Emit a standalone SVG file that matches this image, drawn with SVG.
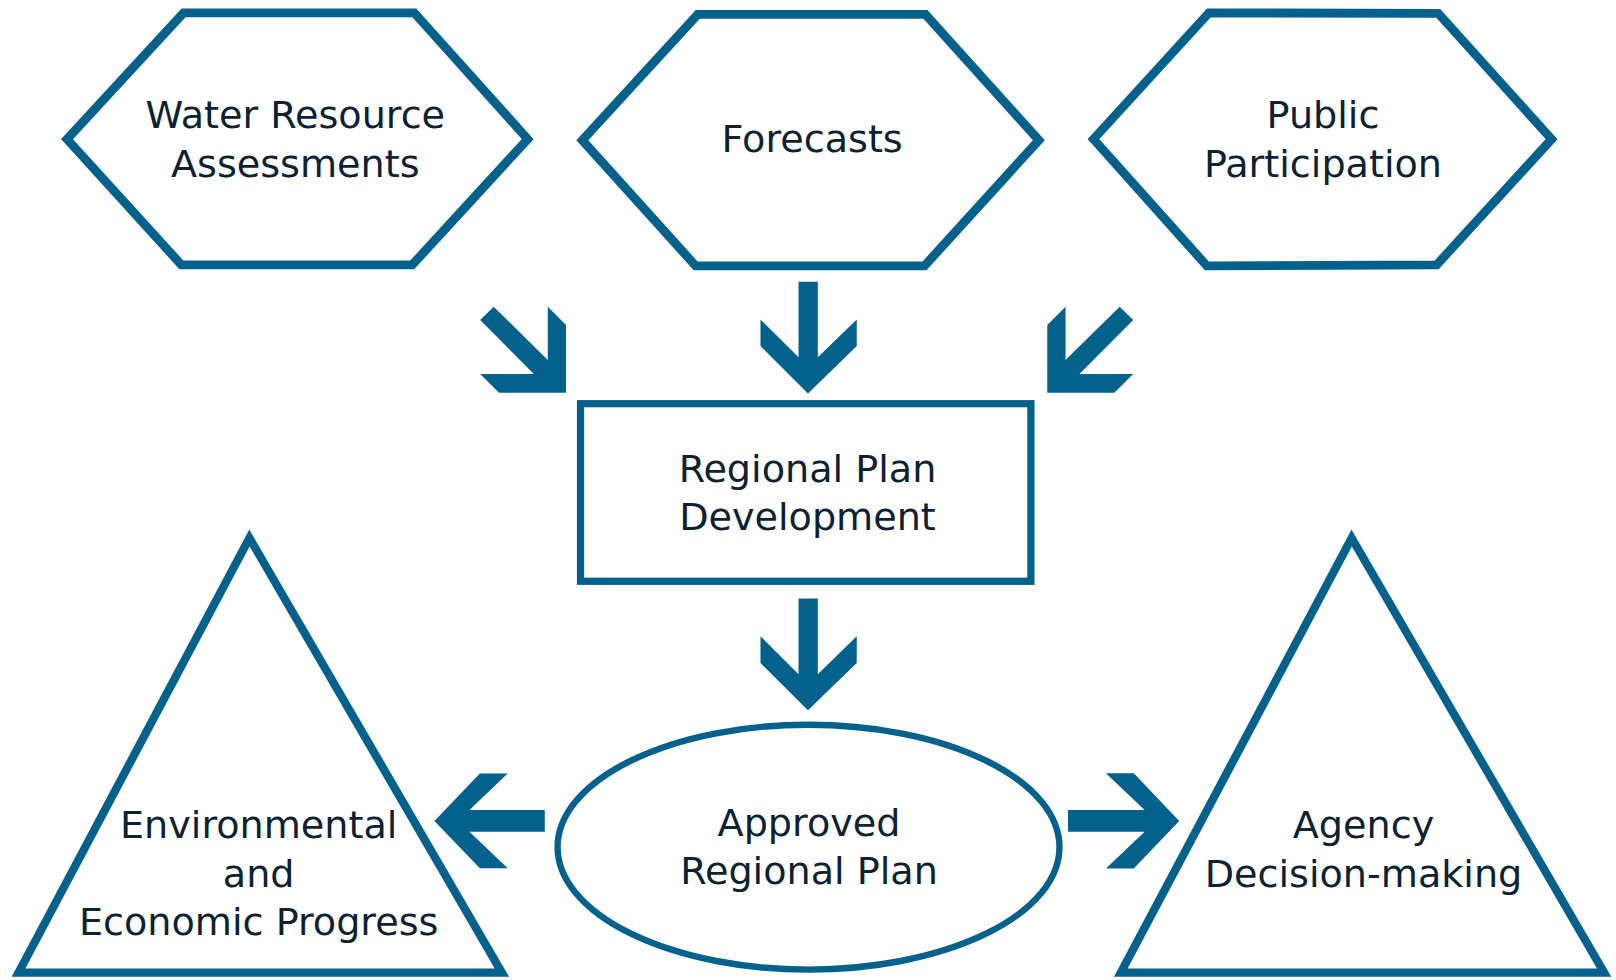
<svg xmlns="http://www.w3.org/2000/svg" width="1616" height="980" viewBox="0 0 1616 980">
<style>
.shape{fill:#ffffff;stroke:#04618c;stroke-linejoin:miter}
.hex{stroke-width:8.6}
.arrow{fill:#04618c;stroke:none}
.lbl{font-family:"DejaVu Sans","Liberation Sans",sans-serif;font-size:37px;fill:#0c2233;text-anchor:middle}
</style>
<defs>
<polygon id="downArrow" points="774.8,273.3 793.5,273.3 793.5,346.7 831.3,309.9 831.3,335.7 784,381.7 737.9,335.7 737.9,309.9 774.8,346.7"/>
<polygon id="diagArrow" points="1086.4,297.6 1033.9,349.3 1033.9,297.6 1016.2,315.4 1016.2,381 1081.2,381 1099.5,362.9 1047.4,362.9 1099.5,310.5"/>
</defs>
<rect width="1616" height="980" fill="#ffffff"/>
<g transform="scale(1.030612)">
<g id="node-water-resource">
<polygon class="shape hex" points="65,135 178,12.5 402,12.5 512,135 400,257 176,257"/>
<text class="lbl" x="286.5" y="124.5">Water Resource</text>
<text class="lbl" x="286.5" y="171.5">Assessments</text>
</g>
<g id="node-forecasts">
<polygon class="shape hex" points="565,136 677,14 898,14 1008,136 897,258 675,258"/>
<text class="lbl" x="788" y="147.2">Forecasts</text>
</g>
<g id="node-public">
<polygon class="shape hex" points="1061,135 1173,12.5 1395.5,13 1505.5,135 1394,257 1171,258"/>
<text class="lbl" x="1283.7" y="124.5">Public</text>
<text class="lbl" x="1283.7" y="171.5">Participation</text>
</g>
<g id="node-regional-plan-dev">
<rect class="shape" x="563.3" y="391.7" width="437" height="172.3" stroke-width="7"/>
<text class="lbl" x="783.5" y="467.4">Regional Plan</text>
<text class="lbl" x="783.5" y="514">Development</text>
</g>
<g id="node-approved">
<ellipse class="shape" cx="784.5" cy="822" rx="243.5" ry="118.8" stroke-width="6.2"/>
<text class="lbl" x="785" y="811.2">Approved</text>
<text class="lbl" x="785" y="858">Regional Plan</text>
</g>
<g id="node-env-econ">
<polygon class="shape" stroke-width="8" points="242,522 487,943.7 18,943.7"/>
<text class="lbl" x="251" y="813.4">Environmental</text>
<text class="lbl" x="251" y="860.3">and</text>
<text class="lbl" x="251" y="907.2">Economic Progress</text>
</g>
<g id="node-agency">
<polygon class="shape" stroke-width="8" points="1311.5,522 1556.5,943.7 1087.5,943.7"/>
<text class="lbl" x="1323" y="813.4">Agency</text>
<text class="lbl" x="1323" y="860.3">Decision-making</text>
</g>
<g id="connectors">
<use href="#diagArrow" class="arrow" transform="translate(1565.4,0) scale(-1,1)"/>
<use href="#downArrow" class="arrow"/>
<use href="#diagArrow" class="arrow"/>
<use href="#downArrow" class="arrow" transform="translate(0,307.5)"/>
<polygon class="arrow" points="421.5,796.5 465.6,750.5 492.6,750.5 455.5,786 528.6,786 528.6,807 455.5,807 492.6,842.5 465.6,842.5"/>
<polygon class="arrow" points="1036.3,786 1110.6,786 1073.1,750.4 1100.1,750.4 1144.2,796.5 1100.1,842.6 1073.1,842.6 1110.6,807 1036.3,807"/>
</g>
</g>
</svg>
